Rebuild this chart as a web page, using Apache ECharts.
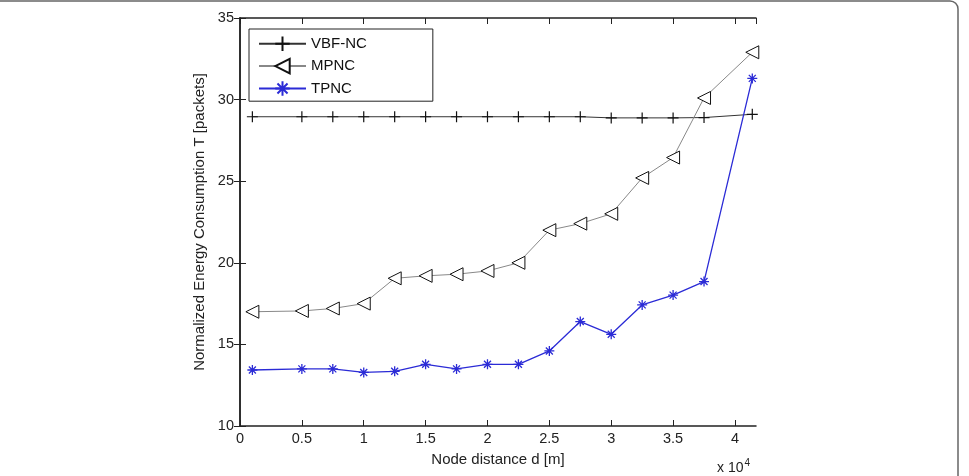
<!DOCTYPE html>
<html>
<head>
<meta charset="utf-8">
<script src="https://cdn.jsdelivr.net/npm/echarts@6/dist/echarts.min.js"></script>
<style>
  html, body { margin: 0; padding: 0; background: #fff; }
  #chart { width: 969px; height: 476px; }
</style>
</head>
<body>
<div id="chart"></div>
<script>
// distances (x 10^4 m)
const distances = [0.1, 0.5, 0.75, 1.0, 1.25, 1.5, 1.75, 2.0, 2.25, 2.5, 2.75, 3.0, 3.25, 3.5, 3.75, 4.14];
const vbfNC = [28.95, 28.95, 28.95, 28.95, 28.95, 28.95, 28.95, 28.95, 28.95, 28.95, 28.95, 28.88, 28.88, 28.88, 28.9, 29.1];
const mpNC = [17.0, 17.05, 17.2, 17.5, 19.05, 19.2, 19.3, 19.5, 20.0, 22.0, 22.4, 23.0, 25.2, 26.45, 30.1, 32.9];
const tpNC = [13.43, 13.5, 13.5, 13.28, 13.35, 13.78, 13.5, 13.78, 13.78, 14.6, 16.4, 15.62, 17.42, 18.02, 18.85, 31.3];
const yTicks = [10, 15, 20, 25, 30, 35];

const plusSym = 'path://M5,0L5,10M0,5L10,5';
const starSym = 'path://M5,0L5,10M0,5L10,5M1.5,1.5L8.5,8.5M8.5,1.5L1.5,8.5';
const font = "Liberation Sans, Arial, sans-serif";

function pairs(ys) {
  return distances.map((d, i) => [d, ys[i]]);
}

// 坐标轴公用样式 (ticks pointing into the plot)
const lineCol = "#222";
function frameAxis(extra) {
  return Object.assign({
    type: "value",
    axisLine: { show: true, lineStyle: { color: lineCol, width: 1.5 } },
    axisTick: { show: true, inside: false, length: -6, lineStyle: { color: lineCol } },
    splitLine: { show: false }
  }, extra);
}

let chart = echarts.init(document.getElementById("chart"));
chart.setOption({
  animation: false,
  textStyle: { fontFamily: font },
  grid: { left: 240, right: 213, top: 18, bottom: 50 },
  graphic: [
    {
      type: "rect",
      shape: { x: -10, y: 1, width: 968, height: 500, r: 8 },
      style: { fill: "none", stroke: "#666", lineWidth: 1.5 },
      silent: true
    },
    {
      type: "text",
      left: 717,
      top: 458,
      style: {
        text: "x 10{s|4}",
        fontSize: 14,
        fill: "#222",
        fontFamily: font,
        rich: { s: { fontSize: 10, verticalAlign: "top", padding: [0, 0, 10, 1] } }
      }
    }
  ],
  legend: {
    left: 249,
    top: 29,
    orient: "vertical",
    backgroundColor: "#fff",
    borderColor: "#222",
    borderWidth: 1,
    borderRadius: 0,
    padding: [5, 66, 3, 9],
    itemGap: 4.5,
    itemWidth: 47,
    itemHeight: 18,
    textStyle: { fontSize: 15, color: "#111" },
    data: ["VBF-NC", "MPNC", "TPNC"]
  },
  xAxis: [
    frameAxis({
      min: 0,
      max: 4.17,
      interval: 0.5,
      name: "Node distance d [m]",
      nameLocation: "middle",
      nameGap: 26,
      nameTextStyle: { fontSize: 15, color: "#222" },
      axisLabel: {
        color: "#222",
        fontSize: 14.5,
        margin: 5,
        showMaxLabel: false,
        formatter: v => (Math.abs(v - Math.round(v)) < 1e-9 ? String(Math.round(v)) : String(v))
      }
    }),
    frameAxis({
      position: "top",
      min: 0,
      max: 4.17,
      interval: 0.5,
      axisLabel: { show: false }
    })
  ],
  yAxis: [
    frameAxis({
      min: yTicks[0],
      max: yTicks[yTicks.length - 1],
      interval: 5,
      name: "Normalized Energy Consumption T [packets]",
      nameLocation: "middle",
      nameGap: 31,
      nameTextStyle: { fontSize: 15, color: "#222" },
      axisLabel: { color: "#222", fontSize: 14.5, margin: 6 }
    }),
    frameAxis({
      position: "right",
      min: yTicks[0],
      max: yTicks[yTicks.length - 1],
      interval: 5,
      axisLabel: { show: false }
    })
  ],
  series: [
    {
      name: "VBF-NC",
      type: "line",
      data: pairs(vbfNC),
      symbol: plusSym,
      symbolSize: 11,
      showAllSymbol: true,
      lineStyle: { color: "#333", width: 1 },
      itemStyle: { color: "none", borderColor: "#111", borderWidth: 1.2 }
    },
    {
      name: "MPNC",
      type: "line",
      data: pairs(mpNC),
      symbol: "triangle",
      symbolRotate: 90,
      symbolSize: 13,
      showAllSymbol: true,
      lineStyle: { color: "#888", width: 1 },
      itemStyle: { color: "#fff", borderColor: "#111", borderWidth: 1 }
    },
    {
      name: "TPNC",
      type: "line",
      data: pairs(tpNC),
      symbol: starSym,
      symbolSize: 10,
      showAllSymbol: true,
      lineStyle: { color: "#2b2bd6", width: 1.3 },
      itemStyle: { color: "none", borderColor: "#2b2bd6", borderWidth: 1.3 }
    }
  ]
});
</script>
</body>
</html>
